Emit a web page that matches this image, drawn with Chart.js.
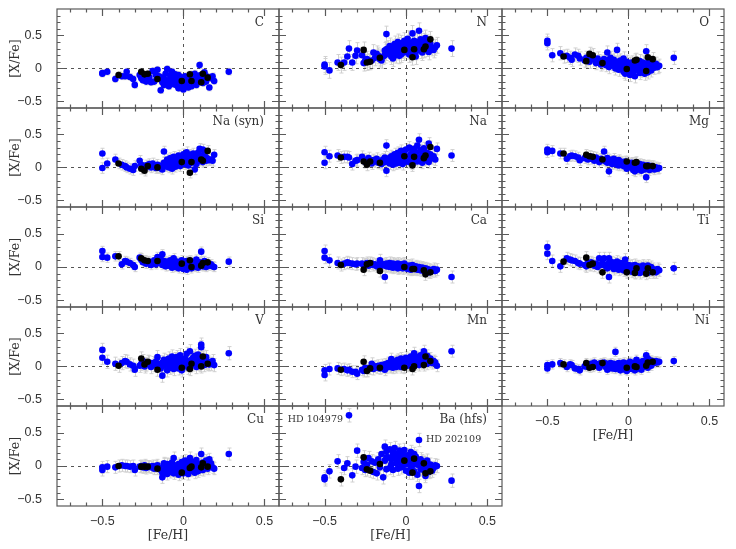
<!DOCTYPE html>
<html>
<head>
<meta charset="utf-8">
<script src="https://cdn.jsdelivr.net/npm/chart.js@4.4.1/dist/chart.umd.min.js"></script>
<style>
body { margin: 0; background: #fff; }
#wrap { position: relative; width: 736px; height: 549px; }
#wrap canvas { position: absolute; left: 0; top: 0; }
</style>
</head>
<body>
<div id="wrap"></div>
<script>
let fehBlue = [-0.50, -0.50, -0.47, -0.42, -0.38, -0.36, -0.35, -0.33, -0.31, -0.30,
  -0.27, -0.26, -0.25, -0.24, -0.23, -0.21, -0.20, -0.19, -0.18, -0.17,
  -0.16, -0.15, -0.14, -0.13, -0.13, -0.12, -0.12, -0.11, -0.10, -0.10,
  -0.09, -0.09, -0.08, -0.08, -0.07, -0.07, -0.06, -0.06, -0.05, -0.05,
  -0.04, -0.04, -0.03, -0.03, -0.02, -0.02, -0.01, -0.01, 0.00, 0.00,
  0.01, 0.01, 0.02, 0.02, 0.03, 0.03, 0.04, 0.04, 0.05, 0.05,
  0.06, 0.06, 0.07, 0.07, 0.08, 0.08, 0.09, 0.09, 0.10, 0.10,
  0.11, 0.11, 0.12, 0.12, 0.13, 0.13, 0.14, 0.14, 0.15, 0.16,
  0.17, 0.18, 0.19, 0.28, -0.08, -0.04, 0.02, 0.06, 0.10, -0.12]
let fehBlack = [-0.40, -0.26, -0.24, -0.22, -0.16, -0.01, 0.04, 0.05, 0.11, 0.12, 0.15]

let cBlue = [-0.08, -0.07, -0.05, -0.16, -0.12, -0.12, -0.05, -0.13, -0.16, -0.25,
  -0.10, -0.15, -0.18, -0.13, -0.20, -0.13, -0.21, -0.04, -0.20, -0.10,
  -0.02, -0.12, -0.33, -0.21, -0.14, -0.16, -0.25, -0.08, -0.20, -0.01,
  -0.18, -0.27, -0.14, -0.22, -0.05, -0.16, -0.24, -0.12, -0.20, -0.09,
  -0.26, -0.16, -0.10, -0.30, -0.19, -0.13, -0.24, -0.28, -0.17, -0.32,
  -0.12, -0.22, -0.26, -0.16, -0.29, -0.14, -0.20, -0.24, -0.10, -0.27,
  -0.18, -0.13, -0.22, -0.08, -0.16, -0.25, -0.20, -0.12, 0.05, -0.16,
  -0.18, -0.10, -0.14, -0.22, -0.06, -0.17, -0.12, -0.20, -0.13, -0.29,
  -0.15, -0.12, -0.19, -0.05, -0.10, -0.20, -0.15, -0.21, -0.11, -0.17]
let cBlack = [-0.10, -0.05, -0.09, -0.08, -0.16, -0.19, -0.09, -0.19, -0.21, -0.08, -0.14]

let nBlue = [0.06, 0.03, -0.03, 0.09, 0.09, 0.18, 0.30, 0.09, 0.19, 0.27,
  0.20, 0.08, 0.12, 0.14, 0.10, 0.12, 0.24, 0.16, 0.22, 0.19,
  0.14, 0.12, 0.18, 0.20, 0.27, 0.24, 0.52, 0.30, 0.22, 0.34,
  0.26, 0.18, 0.31, 0.22, 0.37, 0.28, 0.20, 0.33, 0.25, 0.40,
  0.29, 0.35, 0.21, 0.38, 0.27, 0.32, 0.42, 0.24, 0.36, 0.30,
  0.45, 0.26, 0.34, 0.39, 0.23, 0.31, 0.53, 0.28, 0.37, 0.42,
  0.33, 0.25, 0.40, 0.30, 0.57, 0.36, 0.27, 0.44, 0.32, 0.38,
  0.41, 0.28, 0.35, 0.46, 0.30, 0.39, 0.33, 0.25, 0.37, 0.31,
  0.28, 0.32, 0.35, 0.30, 0.15, 0.19, 0.21, 0.18, 0.24, 0.29]
let nBlack = [0.05, 0.28, 0.09, 0.10, 0.16, 0.28, 0.17, 0.29, 0.29, 0.33, 0.44]

let oBlue = [0.42, 0.38, 0.20, 0.23, 0.19, 0.16, 0.13, 0.21, 0.19, 0.15,
  0.12, 0.16, 0.14, 0.10, 0.18, 0.13, 0.08, 0.15, 0.11, 0.06,
  0.10, 0.14, 0.05, 0.24, 0.09, 0.12, 0.02, 0.16, 0.07, 0.11,
  0.04, 0.13, 0.08, 0.00, 0.28, 0.06, 0.10, -0.02, 0.05, 0.12,
  0.01, 0.08, -0.05, 0.15, 0.03, -0.08, 0.06, 0.10, -0.03, 0.04,
  0.07, -0.10, 0.02, 0.09, -0.05, 0.05, -0.12, 0.03, 0.08, -0.02,
  0.06, 0.00, -0.07, 0.11, 0.04, -0.04, 0.09, 0.01, -0.08, 0.05,
  0.26, 0.02, -0.06, 0.08, 0.00, 0.10, -0.03, 0.06, 0.03, 0.01,
  0.07, 0.02, 0.04, 0.16, 0.09, 0.05, -0.01, 0.03, -0.02, 0.13]
let oBlack = [0.18, 0.11, 0.22, 0.20, 0.08, -0.01, 0.12, 0.13, -0.04, 0.17, 0.14]

let naSynBlue = [0.21, -0.01, 0.06, 0.12, 0.04, 0.02, 0.00, -0.02, -0.04, 0.02,
  0.10, 0.04, 0.00, -0.02, 0.03, 0.05, 0.00, 0.06, 0.02, -0.01,
  0.04, -0.01, 0.01, 0.03, -0.03, 0.07, 0.24, 0.02, 0.05, 0.12,
  0.00, 0.08, 0.03, 0.14, -0.02, 0.10, 0.05, 0.16, 0.01, 0.09,
  0.13, 0.04, 0.18, 0.07, 0.11, 0.02, 0.15, 0.06, 0.20, 0.10,
  0.05, 0.14, 0.23, 0.09, 0.16, 0.03, 0.12, 0.19, 0.07, 0.14,
  0.21, 0.10, -0.03, 0.17, 0.13, 0.05, 0.22, 0.09, 0.28, 0.15,
  0.12, 0.18, 0.08, 0.27, 0.14, 0.20, 0.10, 0.15, 0.13, 0.11,
  0.12, 0.10, 0.19, null, 0.06, 0.14, 0.08, 0.17, 0.11, 0.04]
let naSynBlack = [0.06, -0.02, -0.05, 0.02, 0.00, 0.08, -0.08, 0.08, 0.12, 0.10, 0.25]

let naBlue = [0.23, 0.07, 0.17, 0.18, 0.16, 0.16, 0.15, 0.05, 0.10, 0.11,
  0.16, 0.12, 0.08, 0.10, 0.14, 0.06, 0.11, 0.09, 0.13, 0.07,
  0.10, 0.05, 0.12, 0.08, 0.15, 0.33, -0.05, 0.11, 0.06, 0.14,
  0.09, 0.17, 0.04, 0.12, 0.20, 0.08, 0.15, 0.06, 0.22, 0.11,
  0.14, 0.07, 0.25, 0.10, 0.18, 0.05, 0.21, 0.13, 0.09, 0.27,
  0.16, 0.11, 0.30, 0.08, 0.20, 0.14, 0.24, 0.06, 0.17, 0.28,
  0.12, 0.21, 0.09, 0.33, 0.42, 0.15, 0.26, 0.10, 0.19, 0.24,
  0.13, 0.29, 0.18, 0.11, 0.22, 0.16, 0.36, 0.08, 0.20, 0.14,
  0.17, 0.12, 0.28, 0.18, 0.12, 0.19, 0.13, 0.23, 0.07, 0.09]
let naBlack = [0.15, 0.09, 0.04, 0.09, 0.07, 0.17, 0.03, 0.16, 0.14, 0.18, 0.31]

let mgBlue = [0.27, 0.23, 0.25, 0.21, 0.13, 0.17, 0.18, 0.17, 0.15, 0.11,
  0.14, 0.16, 0.12, 0.17, 0.13, 0.10, 0.15, 0.12, 0.08, 0.13,
  0.11, 0.24, 0.09, 0.14, 0.07, -0.06, 0.12, 0.08, 0.10, 0.05,
  0.09, 0.13, 0.06, 0.10, 0.04, 0.08, 0.11, 0.03, 0.07, 0.09,
  0.05, 0.08, 0.02, 0.06, 0.09, 0.03, 0.07, -0.02, 0.04, 0.06,
  0.03, 0.05, 0.00, 0.07, -0.04, 0.02, 0.06, -0.06, 0.04, 0.01,
  0.03, -0.02, 0.05, 0.00, 0.02, -0.05, 0.04, 0.01, -0.03, 0.02,
  -0.15, 0.00, 0.03, -0.02, 0.01, -0.04, 0.02, -0.01, 0.00, -0.03,
  0.00, -0.02, -0.01, null, 0.06, 0.04, 0.05, -0.03, 0.02, 0.08]
let mgBlack = [0.21, 0.19, 0.17, 0.16, 0.12, 0.09, 0.07, 0.08, 0.02, 0.02, 0.02]

let siBlue = [0.24, 0.15, 0.14, 0.16, 0.04, 0.09, 0.08, 0.06, 0.03, 0.00,
  0.14, 0.11, 0.07, 0.09, 0.05, 0.08, 0.03, 0.06, 0.10, 0.04,
  0.15, 0.07, 0.12, 0.19, 0.03, 0.06, 0.09, 0.01, 0.05, 0.08,
  0.02, 0.07, 0.04, 0.10, -0.01, 0.06, 0.03, 0.13, 0.00, 0.05,
  0.08, 0.02, 0.05, -0.02, 0.07, 0.03, 0.10, 0.01, 0.04, -0.03,
  0.06, 0.02, 0.09, -0.04, 0.04, 0.07, 0.01, 0.05, -0.02, 0.08,
  0.03, 0.06, 0.00, 0.04, 0.11, 0.02, 0.05, -0.01, 0.07, 0.03,
  0.04, 0.23, 0.01, 0.06, 0.02, 0.09, 0.00, 0.05, 0.03, 0.02,
  0.04, 0.01, 0.00, 0.08, 0.06, 0.03, 0.05, 0.02, 0.04, 0.07]
let siBlack = [0.16, 0.13, 0.10, 0.09, 0.09, 0.05, 0.10, 0.00, 0.02, 0.06, 0.07]

let caBlue = [0.24, 0.14, 0.10, 0.06, 0.05, 0.07, 0.06, 0.05, 0.04, 0.05,
  0.05, 0.03, 0.04, 0.06, 0.02, 0.05, 0.03, 0.04, 0.01, 0.03,
  0.10, 0.02, 0.04, -0.15, 0.03, 0.01, 0.05, 0.02, 0.06, 0.00,
  0.03, 0.01, 0.05, -0.01, 0.02, 0.04, 0.00, 0.03, -0.02, 0.05,
  0.02, -0.01, 0.04, 0.00, 0.03, -0.02, 0.01, 0.05, -0.01, 0.02,
  0.00, -0.03, 0.02, -0.01, -0.04, 0.01, -0.02, 0.03, -0.03, -0.01,
  -0.02, 0.01, -0.04, -0.01, -0.03, 0.00, -0.05, -0.02, -0.01, -0.04,
  -0.03, -0.06, -0.02, -0.05, -0.07, -0.03, -0.04, -0.08, -0.05, -0.06,
  -0.03, -0.06, -0.04, -0.15, 0.01, 0.00, -0.02, -0.01, -0.03, 0.02]
let caBlack = [0.03, -0.04, 0.04, 0.06, -0.06, 0.00, -0.03, -0.03, -0.05, -0.11, -0.08]

let tiBlue = [0.30, 0.20, 0.09, 0.01, 0.13, 0.11, 0.10, 0.09, 0.06, 0.05,
  0.03, 0.01, 0.06, 0.04, 0.07, 0.02, 0.05, 0.00, 0.13, 0.03,
  0.06, 0.13, 0.01, 0.04, -0.02, 0.13, -0.15, 0.03, 0.00, 0.07,
  0.02, -0.03, 0.05, 0.00, 0.08, -0.01, 0.03, -0.04, 0.01, 0.06,
  -0.02, 0.04, -0.05, 0.01, 0.11, -0.03, 0.02, -0.06, 0.00, 0.03,
  -0.04, 0.01, -0.07, 0.02, -0.02, -0.05, 0.03, -0.08, 0.00, -0.03,
  -0.06, 0.01, -0.02, -0.09, 0.00, -0.04, -0.07, 0.02, -0.03, -0.05,
  -0.01, -0.06, 0.02, -0.04, -0.08, -0.02, 0.00, -0.05, -0.03, -0.06,
  -0.08, -0.03, -0.05, -0.02, 0.02, -0.01, -0.04, -0.02, 0.00, 0.05]
let tiBlack = [0.08, 0.14, 0.03, 0.05, -0.08, -0.08, -0.09, -0.02, -0.10, -0.02, -0.08]

let vBlue = [0.25, 0.13, 0.07, 0.04, 0.05, 0.08, 0.07, 0.03, 0.01, -0.05,
  0.01, 0.04, 0.08, 0.00, 0.03, 0.06, -0.01, 0.05, 0.02, 0.07,
  0.14, 0.03, -0.03, -0.14, 0.06, 0.01, 0.10, 0.04, -0.06, 0.08,
  0.02, 0.12, -0.02, 0.05, 0.15, 0.00, 0.08, -0.04, 0.11, 0.03,
  0.06, 0.14, -0.03, 0.09, 0.01, 0.17, 0.04, -0.06, 0.10, 0.07,
  0.02, 0.12, 0.05, 0.19, -0.02, 0.08, 0.23, 0.01, 0.10, 0.05,
  0.13, 0.03, 0.16, 0.07, -0.01, 0.11, 0.04, 0.18, 0.09, 0.02,
  0.33, 0.29, 0.06, 0.12, 0.02, 0.09, 0.14, 0.05, 0.07, 0.03,
  0.04, 0.08, 0.02, 0.20, 0.06, 0.10, 0.03, 0.08, 0.12, 0.05]
let vBlack = [0.01, 0.12, 0.03, 0.07, -0.05, -0.02, -0.04, 0.04, 0.00, 0.15, 0.04]

let mnBlue = [-0.06, -0.13, -0.04, -0.03, -0.04, -0.06, -0.05, -0.08, -0.08, -0.11,
  -0.05, -0.07, -0.02, -0.06, -0.03, 0.04, -0.04, 0.00, -0.02, 0.01,
  -0.03, 0.02, -0.01, -0.05, 0.03, 0.00, -0.02, 0.05, -0.01, 0.02,
  0.11, 0.00, 0.04, -0.02, 0.06, 0.01, 0.08, -0.01, 0.03, 0.10,
  0.02, 0.07, -0.01, 0.12, 0.04, 0.09, 0.00, 0.05, 0.13, 0.03,
  0.08, 0.01, 0.11, 0.05, 0.15, 0.02, 0.09, 0.06, 0.20, 0.03,
  0.10, 0.04, 0.14, 0.07, 0.02, 0.12, 0.08, 0.17, 0.05, 0.10,
  0.23, 0.06, 0.13, 0.09, 0.16, 0.04, 0.11, 0.07, 0.12, 0.05,
  0.08, 0.06, 0.01, 0.23, 0.05, 0.08, 0.03, 0.11, 0.06, 0.02]
let mnBlack = [-0.05, 0.07, -0.07, -0.03, -0.02, -0.02, -0.04, 0.00, 0.02, 0.15, 0.08]

let niBlue = [0.02, -0.03, 0.03, 0.05, -0.01, 0.03, 0.02, -0.03, -0.04, -0.06,
  0.00, 0.03, -0.01, 0.02, 0.04, 0.06, 0.01, 0.03, -0.02, 0.05,
  0.02, 0.06, -0.01, 0.04, -0.05, 0.03, 0.01, 0.05, -0.03, 0.02,
  0.00, 0.04, -0.04, 0.22, 0.02, -0.02, 0.05, 0.01, -0.06, 0.03,
  0.04, -0.03, 0.06, 0.00, -0.05, 0.03, 0.01, -0.07, 0.05, 0.02,
  -0.01, 0.07, -0.04, 0.03, 0.00, 0.05, -0.06, 0.02, 0.10, -0.02,
  0.04, -0.03, 0.06, 0.01, -0.05, 0.03, 0.08, -0.01, 0.02, 0.05,
  0.17, 0.02, 0.12, -0.02, 0.06, 0.04, 0.09, 0.01, 0.07, 0.05,
  0.08, 0.06, 0.07, 0.08, 0.01, -0.02, 0.03, 0.00, 0.04, -0.01]
let niBlack = [0.03, 0.05, -0.02, -0.01, 0.05, -0.02, 0.00, -0.01, 0.01, 0.06, 0.07]

let cuBlue = [-0.02, -0.06, -0.01, -0.02, 0.01, 0.00, 0.00, -0.01, 0.00, -0.06,
  -0.01, 0.00, -0.02, 0.01, -0.03, -0.01, -0.02, 0.00, -0.04, -0.01,
  0.01, -0.03, -0.06, -0.17, -0.10, 0.02, -0.08, -0.04, 0.03, -0.12,
  -0.05, 0.02, -0.09, -0.02, 0.05, -0.07, -0.11, 0.12, -0.03, -0.08,
  0.01, -0.06, -0.13, 0.03, -0.04, -0.09, 0.06, -0.02, -0.11, 0.02,
  -0.05, 0.08, -0.08, 0.00, -0.12, 0.04, -0.03, 0.12, -0.07, 0.01,
  -0.04, 0.06, -0.10, 0.02, -0.06, 0.09, -0.02, -0.08, 0.03, -0.05,
  0.18, -0.01, 0.05, -0.06, 0.02, -0.03, 0.08, 0.00, -0.04, 0.10,
  0.04, -0.02, -0.04, 0.18, 0.00, -0.07, 0.03, -0.05, -0.02, 0.04]
let cuBlack = [0.00, -0.01, -0.01, -0.01, -0.04, -0.10, -0.03, -0.01, -0.02, 0.04, -0.01]

let baBlue = [-0.17, -0.20, -0.08, 0.07, -0.03, 0.04, 0.76, -0.14, -0.01, 0.23,
  -0.03, 0.06, -0.06, 0.02, 0.12, 0.07, -0.09, 0.05, -0.11, 0.10,
  -0.02, 0.18, -0.17, 0.29, 0.08, -0.05, 0.22, 0.13, -0.03, 0.25,
  0.10, 0.02, 0.20, -0.06, 0.15, 0.27, 0.04, 0.11, -0.04, 0.18,
  0.06, 0.23, -0.02, 0.12, 0.17, 0.00, 0.09, 0.24, -0.07, 0.14,
  0.03, 0.16, -0.10, 0.08, 0.21, -0.04, 0.12, 0.01, 0.18, -0.08,
  0.06, 0.14, -0.13, 0.02, 0.39, -0.30, 0.10, -0.05, 0.07, 0.00,
  -0.06, 0.05, -0.15, 0.03, -0.02, 0.08, -0.09, -0.04, 0.02, -0.07,
  -0.03, 0.01, 0.00, -0.22, 0.16, 0.19, 0.05, 0.11, -0.01, 0.13]
let baBlack = [-0.20, 0.13, -0.05, -0.07, 0.03, 0.08, -0.10, 0.11, 0.04, -0.11, -0.08]

let labels = ['C', 'N', 'O', 'Na (syn)', 'Na', 'Mg', 'Si', 'Ca', 'Ti', 'V', 'Mn', 'Ni', 'Cu', 'Ba (hfs)']
let blueSets = [cBlue, nBlue, oBlue, naSynBlue, naBlue, mgBlue, siBlue, caBlue, tiBlue, vBlue, mnBlue, niBlue, cuBlue, baBlue]
let blackSets = [cBlack, nBlack, oBlack, naSynBlack, naBlack, mgBlack, siBlack, caBlack, tiBlack, vBlack, mnBlack, niBlack, cuBlack, baBlack]
let errors = [0.05, 0.12, 0.10, 0.08, 0.09, 0.08, 0.07, 0.09, 0.09, 0.10, 0.09, 0.07, 0.09, 0.10]

let xTicks = [-0.5, 0, 0.5]
let yTicks = [-0.5, 0, 0.5]
let noteNames = ['HD 104979', 'HD 202109']
let noteStars = [6, 64]

// layout of the grid
let colLeft = [57, 279, 502]
let colRight = [279, 502, 724]
let rowTop = [9, 108, 207, 307, 406]
let rowBottom = [108, 207, 307, 406, 506]
let bottomPanels = ['Ni', 'Cu', 'Ba (hfs)']

let serif = "'DejaVu Serif', serif"
let sans = "'Liberation Sans', Arial, sans-serif"

function pts(xs, ys) {
    return xs.map((x, i) => ({x: x, y: ys[i]})).filter(p => p.y !== null)
}

function minus(v) {
    return v < 0 ? '\u2212' + Math.abs(v) : String(v)
}

let frame = {
    id: 'frame',
    beforeDatasetsDraw(chart, args, opts) {
        let ctx = chart.ctx, a = chart.chartArea
        let xs = chart.scales.x, ys = chart.scales.y
        ctx.save()
        ctx.strokeStyle = '#d0d0d0'
        ctx.lineWidth = 1
        ctx.beginPath()
        chart.data.datasets.forEach(ds => ds.data.forEach(p => {
            let px = Math.round(xs.getPixelForValue(p.x)) + 0.5
            let t = ys.getPixelForValue(p.y + opts.err)
            let b = ys.getPixelForValue(p.y - opts.err)
            ctx.moveTo(px, t); ctx.lineTo(px, b)
            ctx.moveTo(px - 2, t); ctx.lineTo(px + 2, t)
            ctx.moveTo(px - 2, b); ctx.lineTo(px + 2, b)
        }))
        ctx.stroke()
        ctx.strokeStyle = '#555'
        ctx.setLineDash([3, 4])
        let y0 = Math.round(ys.getPixelForValue(0)) + 0.5
        let x0 = Math.round(xs.getPixelForValue(0)) + 0.5
        ctx.beginPath()
        ctx.moveTo(a.left, y0); ctx.lineTo(a.right, y0)
        ctx.moveTo(x0, a.top); ctx.lineTo(x0, a.bottom)
        ctx.stroke()
        ctx.restore()
    },
    afterDatasetsDraw(chart, args, opts) {
        let ctx = chart.ctx, a = chart.chartArea
        let xs = chart.scales.x, ys = chart.scales.y
        ctx.save()
        ctx.strokeStyle = '#5a5a5a'
        ctx.lineWidth = 1.2
        ctx.strokeRect(a.left, a.top, a.right - a.left, a.bottom - a.top)
        ctx.beginPath()
        for (let k = -7; k <= 5; k++) {
            let px = Math.round(xs.getPixelForValue(k / 10)) + 0.5
            let len = k % 5 == 0 ? 7 : 3.5
            ctx.moveTo(px, a.bottom); ctx.lineTo(px, a.bottom - len)
            ctx.moveTo(px, a.top); ctx.lineTo(px, a.top + len)
        }
        for (let k = -5; k <= 8; k++) {
            let py = Math.round(ys.getPixelForValue(k / 10)) + 0.5
            let len = k % 5 == 0 ? 7 : 3.5
            ctx.moveTo(a.left, py); ctx.lineTo(a.left + len, py)
            ctx.moveTo(a.right, py); ctx.lineTo(a.right - len, py)
        }
        ctx.stroke()
        ctx.fillStyle = '#333'
        ctx.font = '12px ' + serif
        ctx.textAlign = 'right'
        ctx.textBaseline = 'middle'
        ctx.fillText(opts.label, a.right - 15, a.top + 14)
        if (opts.notes) {
            ctx.font = '9.5px ' + serif
            noteStars.forEach((s, j) => {
                let px = xs.getPixelForValue(fehBlue[s])
                let py = ys.getPixelForValue(baBlue[s])
                if (j == 0) {
                    ctx.textAlign = 'right'
                    ctx.fillText(noteNames[j], px - 6, py + 4)
                } else {
                    ctx.textAlign = 'left'
                    ctx.fillText(noteNames[j], px + 7, py)
                }
            })
        }
        ctx.restore()
    }
}

let wrap = document.getElementById('wrap')

labels.forEach((label, i) => {
    let row = Math.floor(i / 3), col = i % 3
    let bottom = bottomPanels.includes(label)
    let left = col == 0
    let cv = document.createElement('canvas')
    cv.width = 736
    cv.height = 549
    wrap.appendChild(cv)
    new Chart(cv, {
        type: 'scatter',
        data: {
            datasets: [
                {data: pts(fehBlack, blackSets[i]), backgroundColor: '#000', pointRadius: 3.3, borderWidth: 0},
                {data: pts(fehBlue, blueSets[i]), backgroundColor: '#0000ff', pointRadius: 3.3, borderWidth: 0}
            ]
        },
        options: {
            responsive: false,
            animation: false,
            events: [],
            devicePixelRatio: 1,
            layout: {
                autoPadding: false,
                padding: {
                    left: left ? 0 : colLeft[col],
                    top: rowTop[row],
                    right: 736 - colRight[col],
                    bottom: 549 - rowBottom[row] - (bottom ? 40 : 0)
                }
            },
            plugins: {
                legend: {display: false},
                tooltip: {enabled: false},
                frame: {err: errors[i], label: label, notes: label == 'Ba (hfs)'}
            },
            scales: {
                x: {
                    type: 'linear', min: -0.78, max: 0.59,
                    display: bottom,
                    grid: {display: false},
                    border: {display: false},
                    afterBuildTicks: s => { s.ticks = xTicks.map(v => ({value: v})) },
                    afterFit: s => { s.height = bottom ? 40 : 0; s.paddingLeft = 0; s.paddingRight = 0 },
                    ticks: {padding: 0, color: '#333', font: {family: sans, size: 12.5}, callback: v => minus(v), maxRotation: 0},
                    title: {display: true, text: '[Fe/H]', color: '#333', font: {family: serif, size: 12.5}, padding: {top: 0, bottom: 3}}
                },
                y: {
                    type: 'linear', min: -0.6, max: 0.9,
                    display: left,
                    grid: {display: false},
                    border: {display: false},
                    afterBuildTicks: s => { s.ticks = yTicks.map(v => ({value: v})) },
                    afterFit: s => { s.width = left ? 57 : 0; s.paddingTop = 0; s.paddingBottom = 0 },
                    ticks: {padding: 7, color: '#333', font: {family: sans, size: 12.5}, callback: v => minus(v)},
                    title: {display: true, text: '[X/Fe]', color: '#333', font: {family: serif, size: 12.5}, padding: {top: 8, bottom: 0}}
                }
            }
        },
        plugins: [frame]
    })
})
</script>
</body>
</html>
